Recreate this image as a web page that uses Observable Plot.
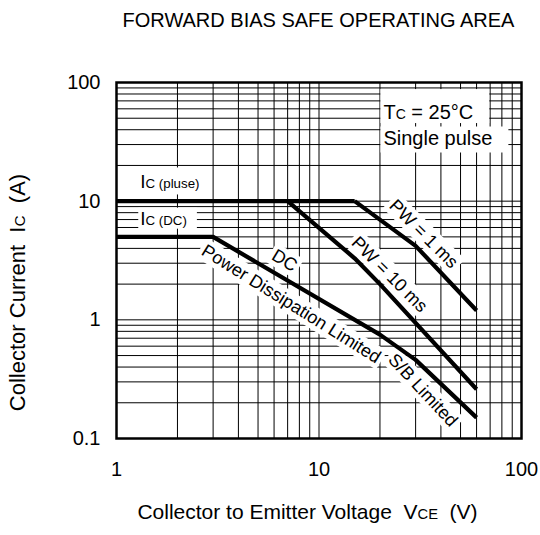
<!DOCTYPE html>
<html>
<head>
<meta charset="utf-8">
<script src="https://cdn.jsdelivr.net/npm/d3@7"></script>
<script src="https://cdn.jsdelivr.net/npm/@observablehq/plot@0.6"></script>
<style>
  body { margin: 0; background: #fff; font-family: Arial, "Liberation Sans", sans-serif; }
  #wrap { width: 540px; height: 535px; position: relative; overflow: hidden; }
  #title { height: 41px; line-height: 41px; margin-left: 116px; width: 405px; text-align: center;
           font-size: 20px; white-space: nowrap; color: #000; margin-bottom: -1px; }
  #chart svg { display: block; }
</style>
</head>
<body>
<div id="wrap">
  <div id="title">FORWARD BIAS SAFE OPERATING AREA</div>
  <div id="chart"></div>
</div>
<script>
// ---- data ----
const icPulseV = [1, 15];
const icPulseI = [10, 10];
const pw1msV = [15, 30, 60];
const pw1msI = [10, 4.2, 1.2];
const pw10msV = [7, 15, 20, 60];
const pw10msI = [10, 3.3, 2.0, 0.26];
const dcV = [1, 3, 20, 30, 60];
const dcI = [5, 5, 0.75, 0.46, 0.15];

const xTicks = [1, 10, 100];
const yTicks = [0.1, 1, 10, 100];
const xGrid = [1, 2, 3, 4, 5, 6, 7, 8, 9, 10, 20, 30, 40, 50, 60, 70, 80, 90, 100];
const yGrid = [0.1, 0.2, 0.3, 0.4, 0.5, 0.6, 0.7, 0.8, 0.9, 1, 2, 3, 4, 5, 6, 7, 8, 9,
               10, 20, 30, 40, 50, 60, 70, 80, 90, 100];

const seriesNames = ["IC pulse", "PW 1ms", "PW 10ms", "DC"];
const seriesV = [icPulseV, pw1msV, pw10msV, dcV];
const seriesI = [icPulseI, pw1msI, pw10msI, dcI];

const xLabel = "Collector to Emitter Voltage\u00a0\u00a0V{CE}\u00a0\u00a0(V)";
const yLabel = "Collector Current\u00a0\u00a0I{C}\u00a0\u00a0(A)";

// annotation texts and their anchor points (V, A)
const lineLabels = ["DC", "Power Dissipation Limited", "S/B Limited", "PW = 1 ms", "PW = 10 ms"];
const lineLabelV = [6.76, 7.29, 32.6, 32.9, 22.3];
const lineLabelI = [3.16, 1.36, 0.255, 5.3, 2.41];
const lineLabelAngle = [31, 32, 47, 45, 45];

const boxLabels = ["I{C (pluse)}", "I{C (DC)}", "T{C} = 25°C", "Single pulse"];
const boxLabelV = [1.31, 1.31, 20.8, 20.8];
const boxLabelI = [14.4, 7.13, 55.7, 34.0];

// ---- build ----
const lineRows = seriesNames.flatMap((s, k) => seriesV[k].map((v, j) => ({series: s, v, i: seriesI[k][j]})));
const lineLabelRows = lineLabels.map((t, k) => ({t, v: lineLabelV[k], i: lineLabelI[k], a: lineLabelAngle[k]}));
const boxLabelRows = boxLabels.map((t, k) => ({t, v: boxLabelV[k], i: boxLabelI[k], fs: k < 2 ? 19 : 20}));

const font = "Arial, 'Liberation Sans', sans-serif";

const plot = Plot.plot({
  width: 540, height: 495,
  marginLeft: 116, marginRight: 19, marginTop: 42, marginBottom: 97,
  style: {fontFamily: font, fontSize: "20px", color: "#000", background: "#fff", overflow: "visible"},
  x: {type: "log", domain: [1, 100], ticks: xTicks, tickFormat: d => String(d), tickSize: 0, tickPadding: 23, label: null},
  y: {type: "log", domain: [0.1, 100], ticks: yTicks, tickFormat: d => String(d), tickSize: 0, tickPadding: 16, label: null},
  marks: [
    Plot.ruleX(xGrid, {stroke: "#000", strokeWidth: 1}),
    Plot.ruleY(yGrid, {stroke: "#000", strokeWidth: 1}),
    Plot.line(lineRows, {x: "v", y: "i", z: "series", stroke: "#000", strokeWidth: 4.2, strokeLinejoin: "round", strokeLinecap: "butt"}),
    Plot.frame({stroke: "#000", strokeWidth: 2.5}),
    Plot.text(lineLabelRows, {
      x: "v", y: "i", text: "t", rotate: "a", textAnchor: "middle", lineAnchor: "middle",
      fontSize: 18, fill: "#000"
    }),
    Plot.text(boxLabelRows, {
      x: "v", y: "i", text: "t", textAnchor: "start", lineAnchor: "middle",
      fontSize: "fs", fill: "#000"
    }),
    Plot.text([xLabel], {text: d => d, frameAnchor: "bottom", dy: 74, dx: -11.5, textAnchor: "middle", lineAnchor: "middle", fontSize: 21, fill: "#000"}),
    Plot.text([yLabel], {text: d => d, frameAnchor: "left", dx: -98.5, dy: 32, rotate: -90, textAnchor: "middle", lineAnchor: "middle", fontSize: 22, fill: "#000"})
  ]
});

document.getElementById("chart").append(plot);

// subscripts (text written as X{sub})
const original = new Map();
d3.select(plot).selectAll("text").each(function () {
  const t = this.textContent;
  original.set(this, t);
  if (!t.includes("{")) return;
  const sel = d3.select(this);
  sel.text(null);
  for (const p of t.split(/(\{[^}]*\})/)) {
    if (!p) continue;
    if (p.startsWith("{")) sel.append("tspan").attr("font-size", "0.7em").text(p.slice(1, -1));
    else sel.append("tspan").text(p);
  }
});

// white backgrounds behind annotations, placed under the curves
const pads = new Map([
  ["DC", [3, 3, 1, 1]],
  ["Power Dissipation Limited", [3, 3, 1, 1]],
  ["S/B Limited", [3, 3, 1, 1]],
  ["PW = 1 ms", [3, 3, 1, 1]],
  ["PW = 10 ms", [3, 3, 1, 1]],
  ["I{C (pluse)}", [5, 7, 4, 2]],
  ["I{C (DC)}", [2, 10, 0, 0]],
  ["T{C} = 25°C", [3, 16, 12, 0]],
  ["Single pulse", [3, 16, 0, 4]]
]);
let anchor = plot.querySelector('g[aria-label="line"]');
if (!anchor) anchor = [...plot.children].find(g => g.getAttribute && g.getAttribute("stroke-width") === "4.2");
const svgM = plot.getScreenCTM().inverse();
original.forEach((t, el) => {
  if (!pads.has(t)) return;
  const [pl, pr, pt, pb] = pads.get(t);
  const bb = el.getBBox();
  const m = svgM.multiply(el.getScreenCTM());
  const rect = document.createElementNS("http://www.w3.org/2000/svg", "rect");
  rect.setAttribute("x", bb.x - pl); rect.setAttribute("y", bb.y - pt);
  rect.setAttribute("width", bb.width + pl + pr); rect.setAttribute("height", bb.height + pt + pb);
  rect.setAttribute("transform", `matrix(${m.a},${m.b},${m.c},${m.d},${m.e},${m.f})`);
  rect.setAttribute("fill", "#fff");
  rect.setAttribute("stroke", "none");
  if (anchor) plot.insertBefore(rect, anchor); else plot.appendChild(rect);
});
</script>
</body>
</html>
